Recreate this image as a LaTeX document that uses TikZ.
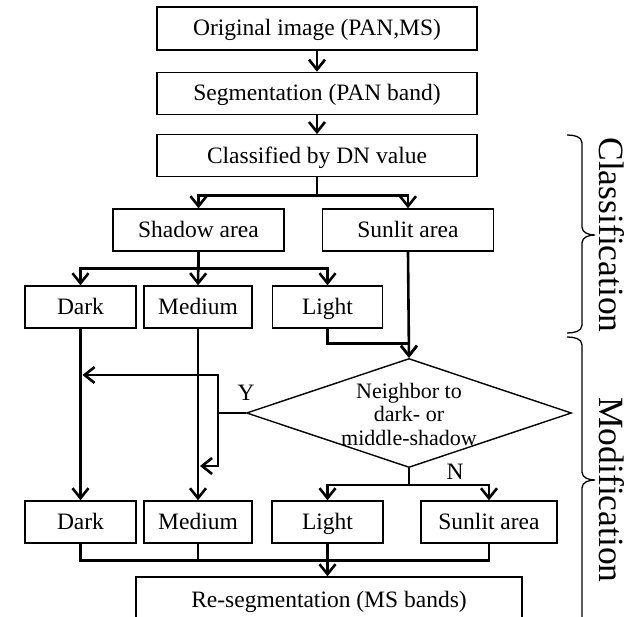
\documentclass[tikz,border=0pt]{standalone}
\usepackage{fontspec}
\setmainfont{Liberation Serif}
\usetikzlibrary{arrows.meta, positioning, shapes.geometric}
\tikzset{
    stepbox/.style={
        rectangle,
        draw=black,
        line width=1.4pt,
        minimum height=42pt,
        inner sep=0pt,
        text height=19pt,
        text depth=4pt,
        fill=white,
        font=\fontsize{23.5}{26}\selectfont
    },
    decision/.style={
        diamond,
        draw=black,
        line width=1.4pt,
        minimum width=325pt,
        minimum height=109pt,
        inner sep=0pt
    },
    wire/.style={
        draw=black,
        line width=2.6pt,
        -{Straight Barb[length=10pt,width=16pt]}
    },
    plainwire/.style={
        draw=black,
        line width=2.6pt
    },
    brace/.style={
        draw=black,
        line width=1.3pt
    },
    branchlabel/.style={
        font=\fontsize{23.5}{26}\selectfont,
        inner sep=0pt
    },
    phase/.style={
        rotate=-90,
        font=\fontsize{35.5}{38}\selectfont,
        inner sep=0pt
    }
}

\begin{document}
\begin{tikzpicture}[x=1pt, y=-1pt]
\useasboundingbox (0,0) rectangle (641,617);

% Classification part
\node[stepbox, minimum width=320pt, minimum height=43pt] (orig) at (317,28.5) {Original image (PAN,MS)};
\node[stepbox, minimum width=320pt, below=21pt of orig] (seg) {Segmentation (PAN band)};
\node[stepbox, minimum width=320pt, below=19pt of seg] (cls) {Classified by DN value};

\node[stepbox, minimum width=171pt] (shadow) at (198.5,230) {Shadow area};
\node[stepbox, minimum width=171pt] (sunlit) at (408,230) {Sunlit area};

\node[stepbox, minimum width=111pt] (dark1) at (80.5,307) {Dark};
\node[stepbox, minimum width=108pt] (medium1) at (198,307) {Medium};
\node[stepbox, minimum width=110pt] (light1) at (327.5,307) {Light};

% Modification part
\node[decision] (chk) at (409,413) {};
\node[font=\fontsize{22}{23.5}\selectfont, align=center, inner sep=0pt] (chktxt) at (409,414) {Neighbor to\\dark- or\\middle-shadow};

\node[stepbox, minimum width=111pt] (dark2) at (80.5,522) {Dark};
\node[stepbox, minimum width=108pt] (medium2) at (198,522) {Medium};
\node[stepbox, minimum width=111pt] (light2) at (327.5,522) {Light};
\node[stepbox, minimum width=136pt] (sunlit2) at (489,522) {Sunlit area};

\node[stepbox, minimum width=386pt, minimum height=46pt] (reseg) at (329,600) {Re-segmentation (MS bands)};

% Connections
\draw[wire] (orig) -- (seg);
\draw[wire] (seg) -- (cls);
\draw[wire] (cls.south) -- ++(0,18) -| (shadow.north);
\draw[wire] (cls.south) -- ++(0,18) -| (sunlit.north);
\draw[wire] (shadow.south) -- ++(0,17) -| (dark1.north);
\draw[wire] (shadow.south) -- (medium1.north);
\draw[wire] (shadow.south) -- ++(0,17) -| (light1.north);

\draw[wire] (light1.south) -- ++(0,15) -| (chk.north);
\draw[wire] (sunlit.south) -- (chk.north);
\draw[wire] (dark1) -- (dark2);
\draw[wire] (medium1) -- (medium2);

% Y branch
\coordinate (yj) at (218,413);
\draw[plainwire] (chk.west) -- (yj);
\draw[wire] (yj) |- ([xshift=2pt]dark1.south |- 0,375);
\draw[wire] (yj) |- ([xshift=2pt]medium1.south |- 0,466);
\node[branchlabel] (ylab) at (246,393) {Y};

% N branch
\draw[wire] (chk.south) -- ++(0,17) -| (light2.north);
\draw[wire] (chk.south) -- ++(0,17) -| (sunlit2.north);
\node[branchlabel] (nlab) at (455,472) {N};

% Merge
\draw[plainwire] (dark2.south) -- ++(0,17) -| (sunlit2.south);
\draw[plainwire] (medium2.south) -- ++(0,17);
\draw[wire] (light2.south) -- (reseg.north -| light2.south);

% Braces
\draw[brace] (567,135) to[out=0, in=90] (582,143) -- (582,227) to[out=-90, in=180] (595,235)
    to[out=180, in=90] (582,243) -- (582,325) to[out=-90, in=0] (567,333);
\draw[brace] (567,337) to[out=0, in=90] (582,345) -- (582,472) to[out=-90, in=180] (595,480)
    to[out=180, in=90] (582,488) -- (582,617) to[out=-90, in=0] (567,625);
\node[phase] (clsname) at (612,235) {Classification};
\node[phase] (modname) at (612,490) {Modification};

\end{tikzpicture}
\end{document}
